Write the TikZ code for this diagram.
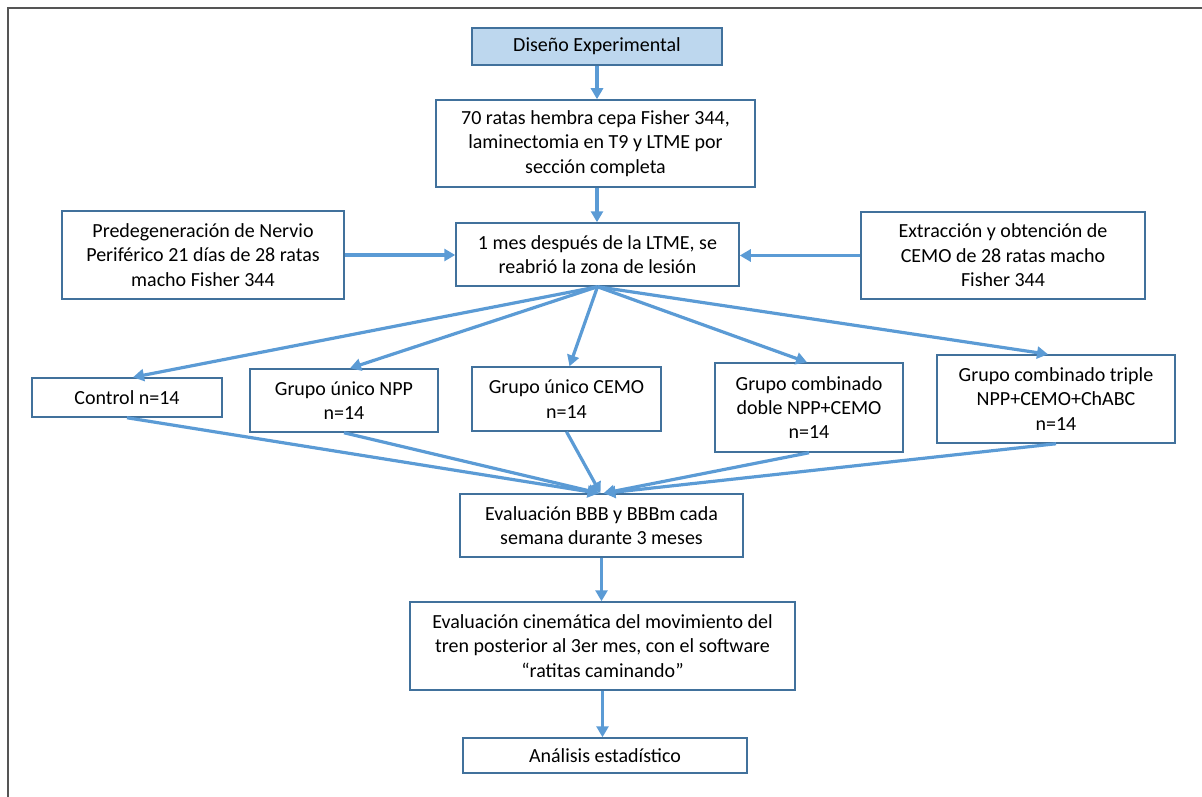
\documentclass[tikz,border=0pt]{standalone}
\usepackage{fontspec}
\setmainfont{Carlito}
\usetikzlibrary{arrows.meta}
\definecolor{boxline}{HTML}{41719C}
\definecolor{arrowc}{HTML}{5B9BD5}
\definecolor{hdrfill}{HTML}{BDD7EE}
\definecolor{framec}{HTML}{555555}
\begin{document}
\begin{tikzpicture}[x=1pt,y=-1pt,
  font=\fontsize{20}{24.4}\selectfont,
  bx/.style={draw=boxline, line width=1.5pt, fill=white, align=center, inner sep=0pt},
  arr/.style={draw=arrowc, line width=3.2pt, -{Triangle[length=11pt,width=12pt]}}]
\useasboundingbox (0,0) rectangle (1202,797);
\draw[framec, line width=1.6pt] (8,797) -- (8,8) -- (1202,8);

\node[bx, fill=hdrfill, minimum width=250pt, minimum height=37pt] (dis) at (597,46.5) {Diseño Experimental};
\node[bx, minimum width=319pt, minimum height=87pt] (r70) at (595.5,143.5) {70 ratas hembra cepa Fisher 344,\\laminectomia en T9 y LTME por\\sección completa};
\node[bx, minimum width=283pt, minimum height=63pt] (mes) at (597.5,254.5) {1 mes después de la LTME, se\\reabrió la zona de lesión};
\node[bx, minimum width=282pt, minimum height=88pt] (pre) at (203,255) {Predegeneración de Nervio\\Periférico 21 días de 28 ratas\\macho Fisher 344};
\node[bx, minimum width=284pt, minimum height=87pt] (ext) at (1003,255.5) {Extracción y obtención de\\CEMO de 28 ratas macho\\Fisher 344};

\node[bx, minimum width=190pt, minimum height=39pt] (ctl) at (127,397.5) {Control n=14};
\node[bx, minimum width=188pt, minimum height=63pt] (npp) at (344,400.5) {Grupo único NPP\\n=14};
\node[bx, minimum width=189pt, minimum height=64pt] (cemo) at (566.5,399) {Grupo único CEMO\\n=14};
\node[bx, minimum width=188pt, minimum height=89pt] (dob) at (809,407.5) {Grupo combinado\\doble NPP+CEMO\\n=14};
\node[bx, minimum width=238pt, minimum height=88pt] (tri) at (1056,399) {Grupo combinado triple\\NPP+CEMO+ChABC\\n=14};

\node[bx, minimum width=283pt, minimum height=63pt] (eva) at (601.5,525.5) {Evaluación BBB y BBBm cada\\semana durante 3 meses};
\node[bx, minimum width=385pt, minimum height=88pt] (cin) at (602.5,646) {Evaluación cinemática del movimiento del\\tren posterior al 3er mes, con el software\\“ratitas caminando”};
\node[bx, minimum width=284pt, minimum height=35pt] (ana) at (605,755.5) {Análisis estadístico};

\draw[arr] (dis.south) -- (dis.south |- r70.north);
\draw[arr] (r70.south -| dis.south) -- (mes.north -| dis.south);
\draw[arr] (pre.east) -- (pre.east -| mes.west);
\draw[arr] (ext.west) -- (ext.west -| mes.east);

\draw[arr] (mes.south) -- ([xshift=6pt]ctl.north);
\draw[arr] (mes.south) -- ([xshift=6pt]npp.north);
\draw[arr] (mes.south) -- ([xshift=3pt]cemo.north);
\draw[arr] (mes.south) -- ([xshift=-2pt]dob.north);
\draw[arr] (mes.south) -- ([xshift=-8pt]tri.north);

\draw[arr] (ctl.south) -- ([xshift=-3pt]eva.north);
\draw[arr] (npp.south) -- ([xshift=-2pt]eva.north);
\draw[arr] (cemo.south) -- ([xshift=-1pt]eva.north);
\draw[arr] (dob.south) -- ([xshift=2pt]eva.north);
\draw[arr] (tri.south) -- ([xshift=3pt]eva.north);

\draw[arr] (eva.south) -- (eva.south |- cin.north);
\draw[arr] (cin.south) -- (cin.south |- ana.north);
\end{tikzpicture}
\end{document}
